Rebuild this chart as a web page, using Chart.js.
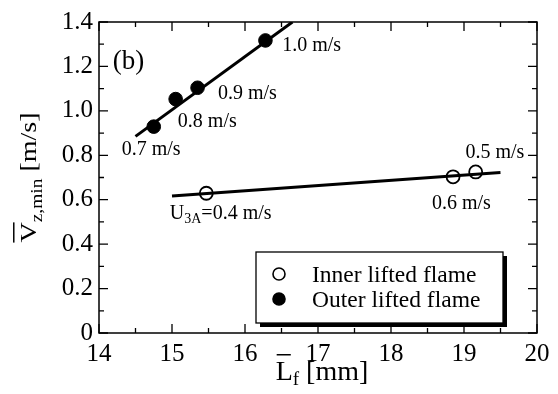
<!DOCTYPE html>
<html>
<head>
<meta charset="utf-8">
<script src="https://cdn.jsdelivr.net/npm/chart.js@4.4.1/dist/chart.umd.min.js"></script>
<style>
html, body { margin: 0; padding: 0; background: #fff; }
</style>
</head>
<body>
<canvas id="chart" width="558" height="394"></canvas>
<script>
// data
var innerX = [15.47, 18.85, 19.16];
var innerY = [0.629, 0.703, 0.725];
var outerX = [14.75, 15.05, 15.35, 16.28];
var outerY = [0.929, 1.053, 1.104, 1.317];
// fitted lines (end points)
var innerFitX = [15.0, 19.5];
var innerFitY = [0.617, 0.722];
var outerFitX = [14.5, 16.65];
var outerFitY = [0.885, 1.4];

var xTicks = [14, 15, 16, 17, 18, 19, 20];
var yTicks = [0, 0.2, 0.4, 0.6, 0.8, 1.0, 1.2, 1.4];

// velocity labels next to points
var noteText = ['1.0 m/s', '0.9 m/s', '0.8 m/s', '0.7 m/s', '0.6 m/s', '0.5 m/s'];
var noteX = [16.51, 15.63, 15.08, 14.31, 18.56, 19.02];
var noteY = [1.293, 1.077, 0.952, 0.824, 0.584, 0.812];

var serif = '"Liberation Serif", "DejaVu Serif", serif';

function pts(xs, ys) {
  return xs.map(function (x, i) { return { x: x, y: ys[i] }; });
}

var decor = {
  id: 'decor',
  afterDraw: function (chart) {
    var ctx = chart.ctx;
    var a = chart.chartArea;
    var xs = chart.scales.x, ys = chart.scales.y;
    ctx.save();
    ctx.strokeStyle = '#000';
    ctx.fillStyle = '#000';

    // frame
    ctx.lineWidth = 1.5;
    ctx.strokeRect(a.left, a.top, a.right - a.left, a.bottom - a.top);

    // inward ticks on all four sides
    ctx.lineWidth = 1.3;
    ctx.beginPath();
    for (var i = 0; i <= 12; i++) {
      var px = xs.getPixelForValue(14 + i * 0.5);
      var len = i % 2 === 0 ? 9 : 5;
      ctx.moveTo(px, a.bottom); ctx.lineTo(px, a.bottom - len);
      ctx.moveTo(px, a.top); ctx.lineTo(px, a.top + len);
    }
    for (var j = 0; j <= 14; j++) {
      var py = ys.getPixelForValue(j * 0.1);
      var l2 = j % 2 === 0 ? 9 : 5;
      ctx.moveTo(a.left, py); ctx.lineTo(a.left + l2, py);
      ctx.moveTo(a.right, py); ctx.lineTo(a.right - l2, py);
    }
    ctx.stroke();

    // (b)
    ctx.font = '27px ' + serif;
    ctx.textBaseline = 'middle';
    ctx.textAlign = 'left';
    ctx.fillText('(b)', xs.getPixelForValue(14.19), ys.getPixelForValue(1.221));

    // velocity notes
    ctx.font = '20px ' + serif;
    for (var k = 0; k < noteText.length; k++) {
      ctx.fillText(noteText[k], xs.getPixelForValue(noteX[k]), ys.getPixelForValue(noteY[k]));
    }
    // U3A=0.4 m/s
    var ux = xs.getPixelForValue(14.97), uy = ys.getPixelForValue(0.535);
    ctx.fillText('U', ux, uy);
    ux += ctx.measureText('U').width;
    ctx.font = '14px ' + serif;
    ctx.fillText('3A', ux, uy + 5);
    ux += ctx.measureText('3A').width;
    ctx.font = '20px ' + serif;
    ctx.fillText('=0.4 m/s', ux, uy);

    // legend box with shadow
    var bx = 256, by = 252, bw = 247, bh = 71;
    ctx.fillRect(bx + 4, by + 4, bw, bh);
    ctx.fillStyle = '#fff';
    ctx.fillRect(bx, by, bw, bh);
    ctx.lineWidth = 1.3;
    ctx.strokeRect(bx, by, bw, bh);
    var ds = chart.data.datasets;
    var rows = [ds[2], ds[3]];
    ctx.font = '23.5px ' + serif;
    for (var r = 0; r < rows.length; r++) {
      var cy = by + 22 + r * 25;
      ctx.beginPath();
      ctx.arc(bx + 23, cy, 6, 0, Math.PI * 2);
      ctx.fillStyle = rows[r].backgroundColor;
      ctx.fill();
      ctx.lineWidth = 1.6;
      ctx.strokeStyle = '#000';
      ctx.stroke();
      ctx.fillStyle = '#000';
      ctx.fillText(rows[r].label, bx + 56, cy + 2);
    }

    // x title: L(overline)_f [mm]
    ctx.textBaseline = 'alphabetic';
    ctx.font = '28px ' + serif;
    var wL = ctx.measureText('L').width;
    ctx.font = '19px ' + serif;
    var wf = ctx.measureText('f').width;
    ctx.font = '28px ' + serif;
    var wr = ctx.measureText(' [mm]').width;
    var tx = 322 - (wL + wf + wr) / 2, ty = 380;
    ctx.fillText('L', tx, ty);
    ctx.fillRect(tx + 1, ty - 26, wL - 3, 1.5);
    ctx.font = '19px ' + serif;
    ctx.fillText('f', tx + wL, ty + 5);
    ctx.font = '28px ' + serif;
    ctx.fillText(' [mm]', tx + wL + wf, ty);

    // y title: V(overline)_z,min [m/s], rotated and slightly squeezed
    ctx.translate(36, 177.5);
    ctx.rotate(-Math.PI / 2);
    ctx.scale(1, 0.82);
    ctx.font = '28px ' + serif;
    var wV = ctx.measureText('V').width;
    ctx.font = '19.5px ' + serif;
    var wz = ctx.measureText('z,min').width;
    ctx.font = '28px ' + serif;
    var wm = ctx.measureText(' [m/s]').width;
    var sx = -(wV + wz + wm) / 2;
    ctx.fillText('V', sx, 0);
    ctx.fillRect(sx, -28, wV, 1.8);
    ctx.font = '19.5px ' + serif;
    ctx.fillText('z,min', sx + wV, 7);
    ctx.font = '28px ' + serif;
    ctx.fillText(' [m/s]', sx + wV + wz, 0);

    ctx.restore();
  }
};

var ctx = document.getElementById('chart').getContext('2d');
var chart = new Chart(ctx, {
  type: 'scatter',
  data: {
    datasets: [
      {
        type: 'line',
        label: 'outer fit',
        data: pts(outerFitX, outerFitY),
        borderColor: '#000',
        borderWidth: 3,
        pointRadius: 0,
        fill: false
      },
      {
        type: 'line',
        label: 'inner fit',
        data: pts(innerFitX, innerFitY),
        borderColor: '#000',
        borderWidth: 3,
        pointRadius: 0,
        fill: false
      },
      {
        label: 'Inner lifted flame',
        data: pts(innerX, innerY),
        backgroundColor: '#fff',
        borderColor: '#000',
        borderWidth: 1.8,
        pointRadius: 6.5
      },
      {
        label: 'Outer lifted flame',
        data: pts(outerX, outerY),
        backgroundColor: '#000',
        borderColor: '#000',
        borderWidth: 1,
        pointRadius: 6.8
      }
    ]
  },
  options: {
    responsive: false,
    animation: false,
    devicePixelRatio: 1,
    layout: { padding: { top: 22, right: 21, left: 0, bottom: 0 } },
    plugins: {
      legend: { display: false },
      tooltip: { enabled: false }
    },
    scales: {
      x: {
        type: 'linear',
        min: 14,
        max: 20,
        afterBuildTicks: function (s) { s.ticks = xTicks.map(function (v) { return { value: v }; }); },
        afterFit: function (s) { s.height = 61; },
        grid: { display: false, drawTicks: false },
        border: { display: false },
        ticks: {
          color: '#000',
          padding: 6,
          font: { family: serif, size: 25 },
          callback: function (v) { return String(v); }
        }
      },
      y: {
        type: 'linear',
        min: 0,
        max: 1.4,
        afterBuildTicks: function (s) { s.ticks = yTicks.map(function (v) { return { value: v }; }); },
        afterFit: function (s) { s.width = 99; },
        grid: { display: false, drawTicks: false },
        border: { display: false },
        ticks: {
          color: '#000',
          padding: 6,
          font: { family: serif, size: 25 },
          callback: function (v) { return v === 0 ? '0' : v.toFixed(1); }
        }
      }
    }
  },
  plugins: [decor]
});
</script>
</body>
</html>
